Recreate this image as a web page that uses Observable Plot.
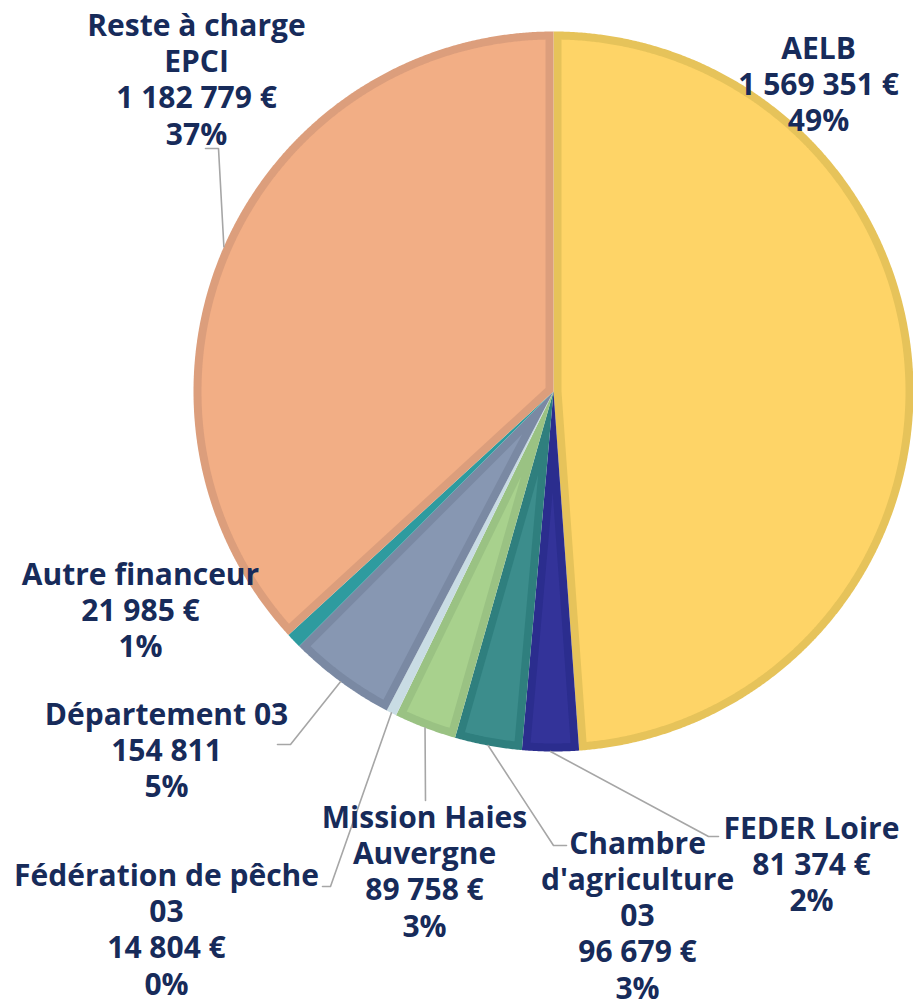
<!DOCTYPE html>
<html><head><meta charset="utf-8">
<script src="https://cdn.jsdelivr.net/npm/d3@7"></script>
<script src="https://cdn.jsdelivr.net/npm/@observablehq/plot@0.6"></script>
<style>body{margin:0;background:#fff;font-family:"Open Sans",sans-serif}</style>
</head><body><div id="chart"></div>
<script>
// ---- data, clockwise from 12 o'clock ----
const names = ["AELB","FEDER Loire","Chambre d'agriculture 03","Mission Haies Auvergne","Fédération de pêche 03","Département 03","Autre financeur","Reste à charge EPCI"];
const values = [1569351, 81374, 96679, 89758, 14804, 154811, 21985, 1182779];
const labelNames = ["AELB","FEDER Loire","Chambre\nd'agriculture\n03","Mission Haies\nAuvergne","Fédération de pêche\n03","Département 03","Autre financeur","Reste à charge\nEPCI"];
const valueLabels = ["1 569 351 €","81 374 €","96 679 €","89 758 €","14 804 €","154 811","21 985 €","1 182 779 €"];
const pctLabels = ["49%","2%","3%","3%","0%","5%","1%","37%"];

// ---- styles ----
const fills   = ["#FED467","#333399","#3C8D8C","#A8D18D","#C9DCE4","#8797B2","#2E9B9F","#F2AE85"];
const borders = ["#E6C35A","#2B2D8E","#2F7F7E","#9AC283","#C9DCE4","#7A89A3","#2E9B9F","#DC9E7C"];

// ---- layout ----
const W = 913, H = 1004;
const cx = 553, cy = 391, R = 360, B = 8;
// label block centres and leader elbows (null = no leader)
const labelPos = [[818,83],[811,863],[637,914],[424,870],[166,928],[166,749],[140,609],[196,78]];
const elbows = [null, [[708,836],[718,836]], [[553,845],[566,845]], [[425,800]], [[330,886],[322,886]], [[290,744],[277,744]], null, [[218,148],[205,148]]];

const arcs = d3.pie().sort(null).value(d => d)(values);
const pt = (r, a) => [cx + r * Math.sin(a), cy - r * Math.cos(a)];
const step = Math.PI / 720;

const poly = [];
arcs.forEach((s, i) => {
  const a0 = s.startAngle, a1 = s.endAngle;
  // outer wedge (border colour)
  const o = [[cx, cy]];
  for (let a = a0; a < a1; a += step) o.push(pt(R, a));
  o.push(pt(R, a1)); o.push([cx, cy]);
  o.forEach(([x, y], k) => poly.push({key: "o" + i, k, x, y, c: borders[i]}));
  // inner wedge (fill colour), inset by B
  const Ri = R - B, half = (a1 - a0) / 2, da = Math.asin(B / Ri);
  if (a1 - a0 > 2 * da + 0.004) {
    const h = B / Math.sin(half), mid = (a0 + a1) / 2;
    const apex = pt(h, mid);
    const inn = [apex];
    for (let a = a0 + da; a < a1 - da; a += step) inn.push(pt(Ri, a));
    inn.push(pt(Ri, a1 - da)); inn.push(apex);
    inn.forEach(([x, y], k) => poly.push({key: "i" + i, k, x, y, c: fills[i]}));
  }
});

const labels = names.map((n, i) => ({
  x: labelPos[i][0], y: labelPos[i][1],
  text: labelNames[i] + "\n" + valueLabels[i] + "\n" + pctLabels[i]
}));

const leaders = [];
arcs.forEach((s, i) => {
  if (!elbows[i]) return;
  const start = pt(R, (s.startAngle + s.endAngle) / 2);
  [start, ...elbows[i]].forEach(([x, y]) => leaders.push({i, x, y}));
});

const chart = Plot.plot({
  width: W, height: H, margin: 0,
  x: {domain: [0, W], range: [0, W], axis: null},
  y: {domain: [0, H], range: [0, H], axis: null},
  color: {type: "identity"},
  marks: [
    Plot.line(poly, {x: "x", y: "y", z: "key", fill: "c", stroke: null, curve: "linear"}),
    Plot.line(leaders, {x: "x", y: "y", z: "i", stroke: "#A6A6A6", strokeWidth: 1.6}),
    Plot.text(labels, {x: "x", y: "y", text: "text", fontSize: 30, fontWeight: 700, fill: "#172B5A", lineHeight: 1.21, fontFamily: "Open Sans"})
  ]
});
document.getElementById("chart").append(chart);
</script>
</body></html>
